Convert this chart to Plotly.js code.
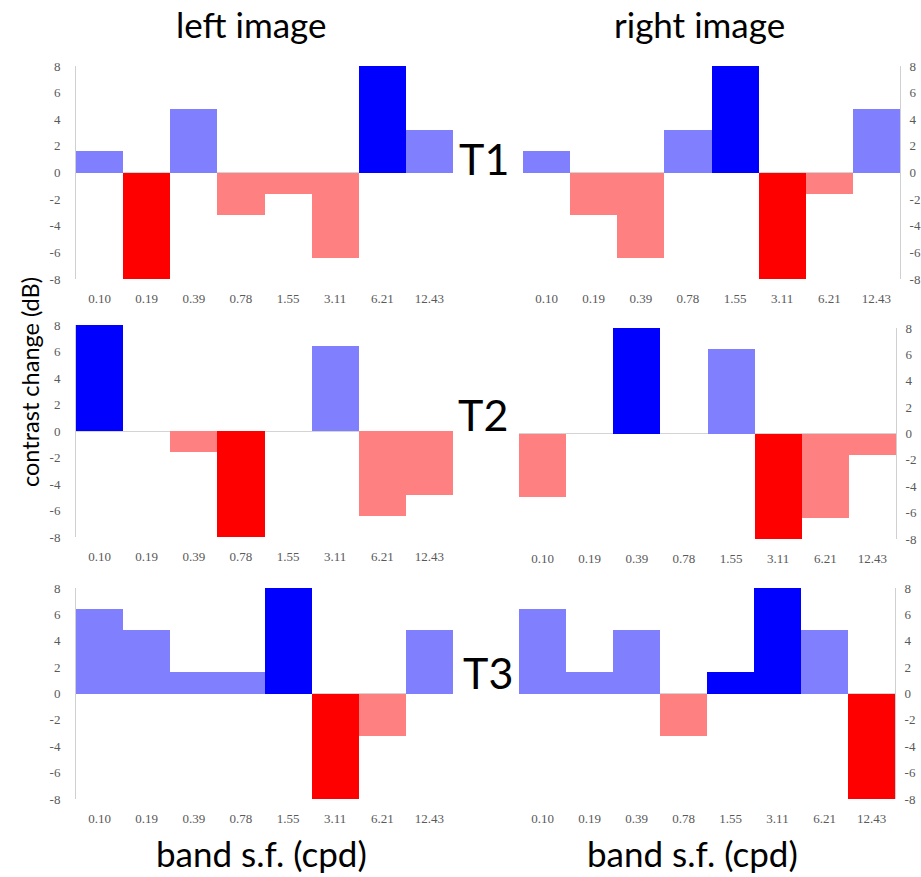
<!DOCTYPE html>
<html>
<head>
<meta charset="utf-8">
<script src="https://cdn.plot.ly/plotly-3.0.1.min.js"></script>
<style>html,body{margin:0;padding:0;background:#fff;}#chart{width:921px;height:877px;}</style>
</head>
<body>
<div id="chart"></div>
<script>
// Spatial-frequency bands (cpd)
const bands = ['0.10', '0.19', '0.39', '0.78', '1.55', '3.11', '6.21', '12.43'];

// Contrast change (dB) per band
const t1Left  = [1.6, -8, 4.8, -3.2, -1.6, -6.4, 8, 3.2];
const t1Right = [1.6, -3.2, -6.4, 3.2, 8, -8, -1.6, 4.8];
const t2Left  = [8, 0, -1.6, -8, 0, 6.4, -6.4, -4.8];
const t2Right = [-4.8, 0, 8, 0, 6.4, -8, -6.4, -1.6];
const t3Left  = [6.4, 4.8, 1.6, 1.6, 8, -8, -3.2, 4.8];
const t3Right = [6.4, 1.6, 4.8, -3.2, 1.6, 8, 4.8, -8];

// Bands drawn in saturated colour (1 = strong)
const t1LeftStrong  = [0, 1, 0, 0, 0, 0, 1, 0];
const t1RightStrong = [0, 0, 0, 0, 1, 1, 0, 0];
const t2LeftStrong  = [1, 0, 0, 1, 0, 0, 0, 0];
const t2RightStrong = [0, 0, 1, 0, 0, 1, 0, 0];
const t3LeftStrong  = [0, 0, 0, 0, 1, 1, 0, 0];
const t3RightStrong = [0, 0, 0, 0, 1, 1, 0, 1];

const yTickVals = [-8, -6, -4, -2, 0, 2, 4, 6, 8];
const yTickText = ['-8', '-6', '-4', '-2', '0', '2', '4', '6', '8'];

const rowLabels = ['T1', 'T2', 'T3'];
const colTitles = ['left image', 'right image'];
const xTitle = 'band s.f. (cpd)';
const yTitle = 'contrast change (dB)';

const W = 921, H = 877;
const px = x => x / W;
const py = y => 1 - y / H;

function colour(v, s) {
  if (v >= 0) return s ? '#0000FF' : '#8080FF';
  return s ? '#FF0000' : '#FF8080';
}

const panels = [
  {vals: t1Left,  strong: t1LeftStrong,  x: [76, 453],  y: [66, 279],  side: 'left'},
  {vals: t1Right, strong: t1RightStrong, x: [523, 900], y: [66, 279],  side: 'right'},
  {vals: t2Left,  strong: t2LeftStrong,  x: [76, 453],  y: [325, 537], side: 'left'},
  {vals: t2Right, strong: t2RightStrong, x: [519, 896], y: [328, 539], side: 'right'},
  {vals: t3Left,  strong: t3LeftStrong,  x: [76, 453],  y: [588, 799], side: 'left'},
  {vals: t3Right, strong: t3RightStrong, x: [519, 895], y: [588, 799], side: 'right'}
];

const tickFont = {family: '"Liberation Serif", "Times New Roman", serif', size: 13, color: '#595959'};
const bigFont = 'Lato, "Open Sans", sans-serif';

const data = [];
const layout = {
  width: W, height: H,
  margin: {l: 0, r: 0, t: 0, b: 0},
  paper_bgcolor: '#ffffff',
  plot_bgcolor: '#ffffff',
  showlegend: false,
  bargap: 0,
  annotations: []
};

panels.forEach((p, i) => {
  const n = i + 1;
  const xa = n === 1 ? 'x' : 'x' + n;
  const ya = n === 1 ? 'y' : 'y' + n;
  data.push({
    type: 'bar',
    x: bands,
    y: p.vals,
    xaxis: xa, yaxis: ya,
    marker: {color: p.vals.map((v, k) => colour(v, p.strong[k])), line: {width: 0}},
    hoverinfo: 'x+y'
  });
  layout['xaxis' + (n === 1 ? '' : n)] = {
    domain: [px(p.x[0]), px(p.x[1])],
    anchor: ya,
    type: 'category',
    showgrid: false, zeroline: false, showline: false,
    ticks: '',
    tickfont: tickFont,
    ticklabelstandoff: 10,
    fixedrange: true
  };
  layout['yaxis' + (n === 1 ? '' : n)] = {
    domain: [py(p.y[1]), py(p.y[0])],
    anchor: xa,
    side: p.side,
    range: [-8, 8],
    tickvals: yTickVals,
    ticktext: yTickText,
    tickfont: tickFont,
    ticks: '',
    ticklabelstandoff: p.side === 'left' ? 12 : 6,
    showgrid: false,
    showline: true, linecolor: '#d0d0d0', linewidth: 1,
    zeroline: true, zerolinecolor: '#d4d4d4', zerolinewidth: 1,
    fixedrange: true
  };
});

function label(text, x, y, size, angle) {
  return {
    text: text, x: px(x), y: py(y), xref: 'paper', yref: 'paper',
    xanchor: 'center', yanchor: 'middle', showarrow: false,
    textangle: angle || 0,
    font: {family: bigFont, size: size, color: '#000'}
  };
}

// Column titles
layout.annotations.push(label(colTitles[0], 251, 24, 35), label(colTitles[1], 699, 24, 35));
// Row labels
const rowY = [158, 415, 672];
const rowX = [484, 483, 488];
rowLabels.forEach((t, i) => layout.annotations.push(label(t, rowX[i], rowY[i], 43)));
// Axis titles
layout.annotations.push(
  label(xTitle, 261, 853, 35),
  label(xTitle, 692, 853, 35),
  label(yTitle, 30, 382, 23.5, -90)
);

Plotly.newPlot('chart', data, layout, {displayModeBar: false, staticPlot: true});
</script>
</body>
</html>
